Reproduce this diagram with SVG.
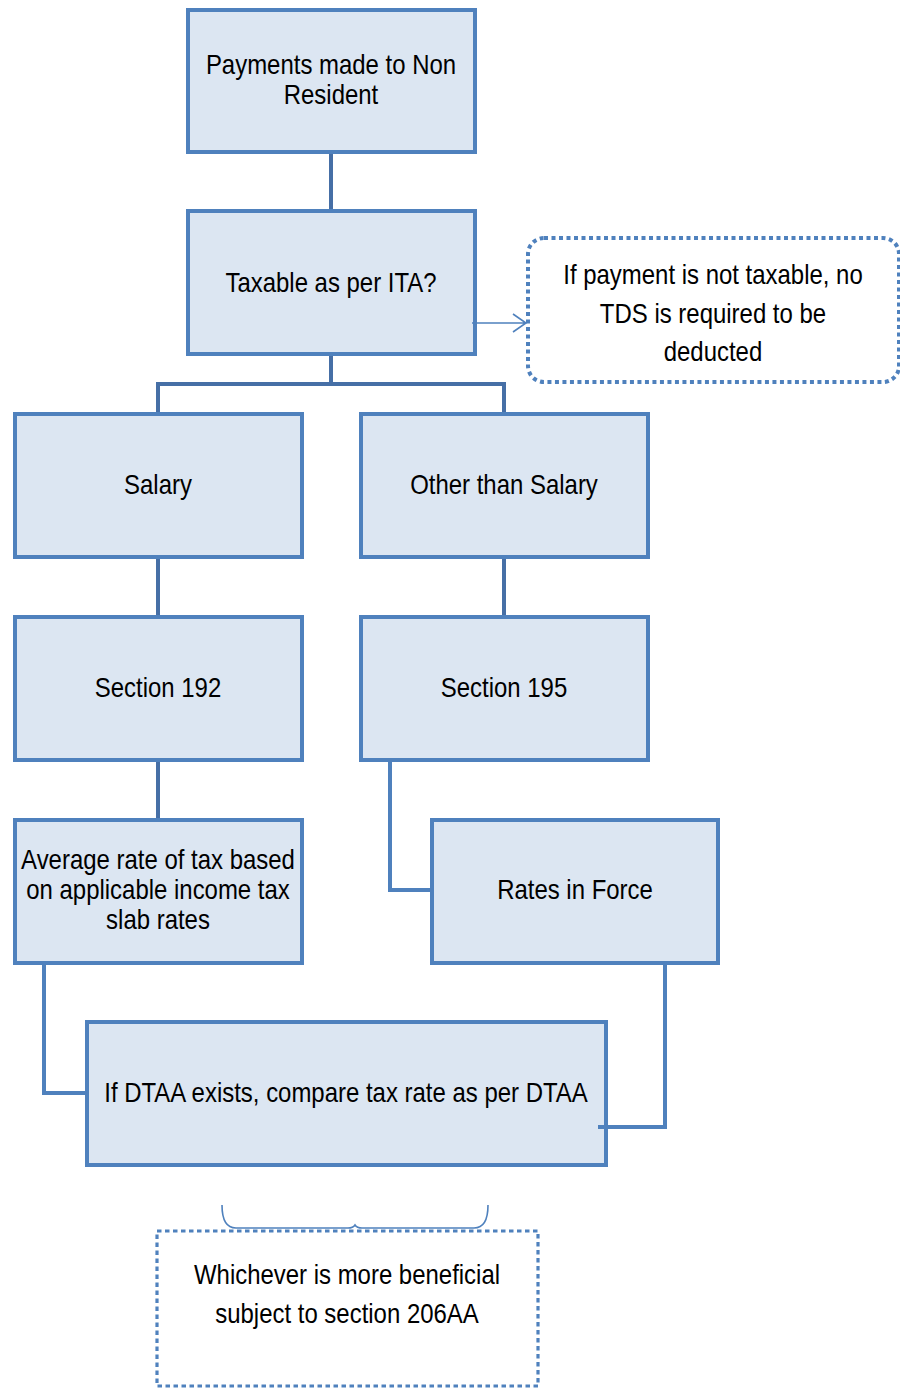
<svg xmlns="http://www.w3.org/2000/svg" width="900" height="1388" viewBox="0 0 900 1388">
  <style>
    .box { fill: #DCE6F2; stroke: #4F81BD; stroke-width: 4; }
    .note { fill: none; stroke: #4F81BD; stroke-width: 4; stroke-dasharray: 4 3.5; }
    .link { fill: none; stroke: #4F81BD; stroke-width: 4; }
    .trunk { fill: none; stroke: #466FA6; stroke-width: 4; }
    .thin { fill: none; stroke: #4F81BD; stroke-width: 1.6; }
    .lbl { font-family: "Liberation Sans", Arial, sans-serif; font-size: 27px; fill: #000; text-anchor: middle; }
  </style>
  <rect width="900" height="1388" fill="#fff"/>

  <g id="n-payments">
    <rect class="box" x="188" y="10" width="287" height="142"/>
    <text class="lbl" transform="translate(331 74) scale(0.887 1)"><tspan x="0" y="0">Payments made to Non</tspan><tspan x="0" y="30">Resident</tspan></text>
  </g>

  <g id="n-taxable">
    <rect class="box" x="188" y="211" width="287" height="143"/>
    <text class="lbl" transform="translate(331 292) scale(0.887 1)">Taxable as per ITA?</text>
  </g>

  <g id="n-not-taxable">
    <rect class="note" x="528" y="238" width="371" height="144" rx="16"/>
    <text class="lbl" transform="translate(713 284) scale(0.887 1)"><tspan x="0" y="0">If payment is not taxable, no</tspan><tspan x="0" y="39">TDS is required to be</tspan><tspan x="0" y="77">deducted</tspan></text>
  </g>

  <g id="n-salary">
    <rect class="box" x="15" y="414" width="287" height="143"/>
    <text class="lbl" transform="translate(158 494) scale(0.887 1)">Salary</text>
  </g>

  <g id="n-other">
    <rect class="box" x="361" y="414" width="287" height="143"/>
    <text class="lbl" transform="translate(504 494) scale(0.887 1)">Other than Salary</text>
  </g>

  <g id="n-sec192">
    <rect class="box" x="15" y="617" width="287" height="143"/>
    <text class="lbl" transform="translate(158 697) scale(0.887 1)">Section 192</text>
  </g>

  <g id="n-sec195">
    <rect class="box" x="361" y="617" width="287" height="143"/>
    <text class="lbl" transform="translate(504 697) scale(0.887 1)">Section 195</text>
  </g>

  <g id="n-average">
    <rect class="box" x="15" y="820" width="287" height="143"/>
    <text class="lbl" transform="translate(158 869) scale(0.887 1)"><tspan x="0" y="0">Average rate of tax based</tspan><tspan x="0" y="30">on applicable income tax</tspan><tspan x="0" y="60">slab rates</tspan></text>
  </g>

  <g id="n-rates">
    <rect class="box" x="432" y="820" width="286" height="143"/>
    <text class="lbl" transform="translate(575 899) scale(0.887 1)">Rates in Force</text>
  </g>

  <g id="n-dtaa">
    <rect class="box" x="87" y="1022" width="519" height="143"/>
    <text class="lbl" transform="translate(346 1102) scale(0.887 1)">If DTAA exists, compare tax rate as per DTAA</text>
  </g>

  <g id="n-beneficial">
    <rect class="note" x="157" y="1231" width="381" height="155" style="stroke-width:3.2;stroke-dasharray:4.5 3.5"/>
    <text class="lbl" transform="translate(347 1284) scale(0.887 1)"><tspan x="0" y="0">Whichever is more beneficial</tspan><tspan x="0" y="39">subject to section 206AA</tspan></text>
  </g>

  <!-- connectors, drawn over the box edges -->
  <g id="connectors">
    <path class="trunk" d="M331 154 V209"/>
    <path class="trunk" d="M331 356 V384 M158 384 H504 M158 382 V412 M504 382 V412"/>
    <path class="trunk" d="M158 559 V615 M504 559 V615"/>
    <path class="trunk" d="M158 762 V818"/>
    <path class="link" d="M390 762 V890 H430"/>
    <path class="link" d="M44 965 V1093 H85"/>
    <path class="link" d="M665 965 V1127 H598"/>
    <path class="thin" d="M472 323 H526 M513 314 L526 323 L513 332"/>
    <path class="thin" d="M222 1205 Q222 1228 236 1228 H348 Q353 1228 355 1225 Q357 1228 362 1228 H474 Q488 1228 488 1205"/>
  </g>
</svg>
